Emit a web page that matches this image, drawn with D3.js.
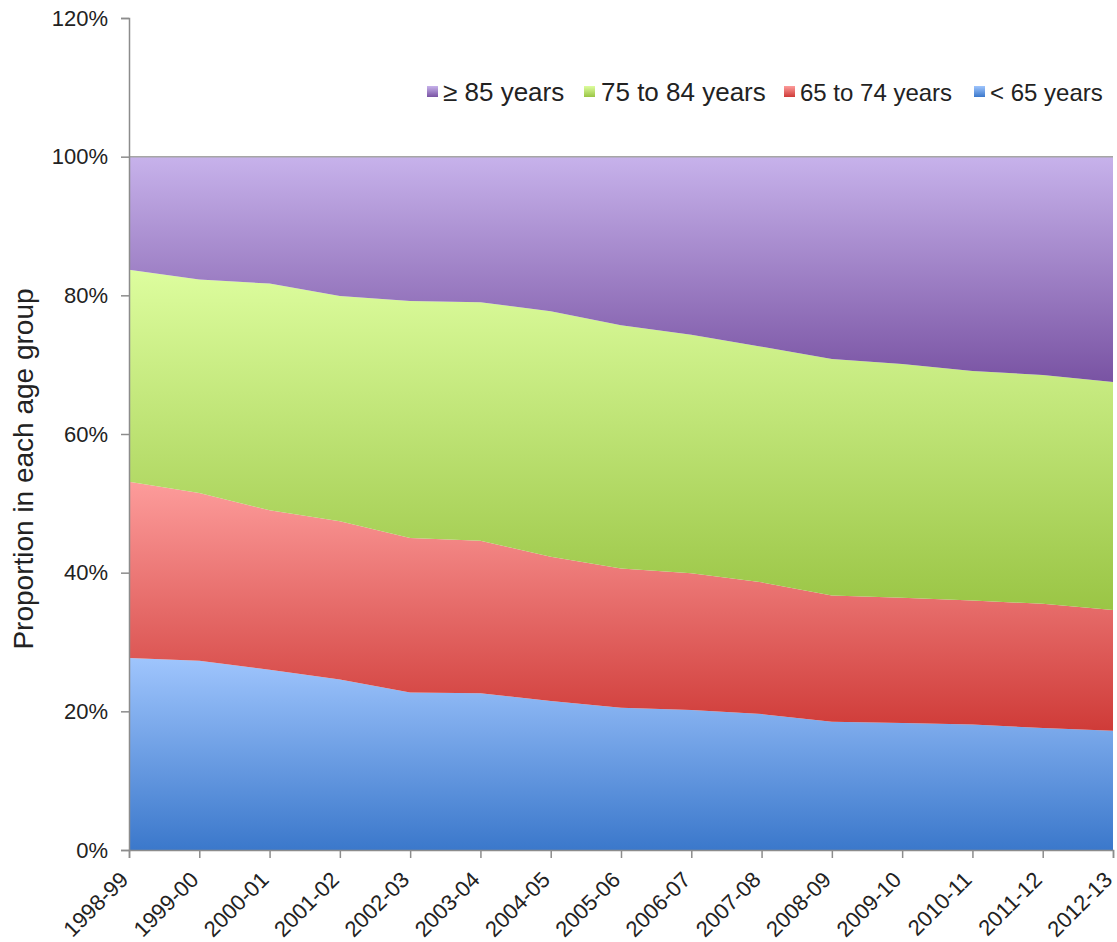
<!DOCTYPE html>
<html>
<head>
<meta charset="utf-8">
<script src="https://cdn.jsdelivr.net/npm/d3@7"></script>
<style>
  html, body { margin: 0; padding: 0; background: #fff; }
  svg { display: block; font-family: "Liberation Sans", Arial, sans-serif; }
</style>
</head>
<body>
<svg id="chart" width="1117" height="942"></svg>
<script>
// Financial years shown on the x axis
const years = ["1998-99","1999-00","2000-01","2001-02","2002-03","2003-04","2004-05",
  "2005-06","2006-07","2007-08","2008-09","2009-10","2010-11","2011-12","2012-13"];

// Share of each age group (%) per year
const under65   = [27.7, 27.3, 26.0, 24.6, 22.7, 22.6, 21.5, 20.5, 20.2, 19.6, 18.5, 18.3, 18.1, 17.6, 17.2];
const age65to74 = [25.4, 24.2, 23.0, 22.8, 22.3, 22.0, 20.8, 20.1, 19.7, 19.0, 18.2, 18.1, 17.9, 17.9, 17.4];
const age75to84 = [30.6, 30.8, 32.7, 32.5, 34.2, 34.4, 35.4, 35.1, 34.4, 34.0, 34.1, 33.7, 33.1, 33.0, 32.9];
const age85plus = [16.3, 17.7, 18.3, 20.1, 20.8, 21.0, 22.3, 24.3, 25.7, 27.4, 29.2, 29.9, 30.9, 31.5, 32.5];

// Y axis tick values (%)
const yTicks = [0, 20, 40, 60, 80, 100, 120];

// Series in stacking order (bottom to top)
const seriesKeys = ["< 65 years", "65 to 74 years", "75 to 84 years", "≥ 85 years"];
const seriesValues = [under65, age65to74, age75to84, age85plus];

const rows = years.map((yr, i) => {
  const r = { year: yr };
  seriesKeys.forEach((k, j) => r[k] = seriesValues[j][i]);
  return r;
});

const svg = d3.select("#chart");
const plotLeft = 129, plotRight = 1113, plotTop = 18, plotBottom = 850;

const x = d3.scalePoint().domain(years).range([plotLeft, plotRight]);
const y = d3.scaleLinear().domain([0, 120]).range([plotBottom, plotTop]);

// Vertical gradient fills for each band
const grads = [
  { id: "gBlue",   from: "#9fc5fd", to: "#3b78cb" },
  { id: "gRed",    from: "#fd9c9b", to: "#cf3b38" },
  { id: "gGreen",  from: "#ddfd9e", to: "#9ac545" },
  { id: "gPurple", from: "#c7b2eb", to: "#7953a3" }
];
const defs = svg.append("defs");
grads.forEach(g => {
  const lgr = defs.append("linearGradient").attr("id", g.id)
    .attr("x1", 0).attr("y1", 0).attr("x2", 0).attr("y2", 1);
  lgr.append("stop").attr("offset", "0%").attr("stop-color", g.from);
  lgr.append("stop").attr("offset", "100%").attr("stop-color", g.to);
});

const stacked = d3.stack().keys(seriesKeys)(rows);

const area = d3.area()
  .x(d => x(d.data.year))
  .y0(d => y(d[0]))
  .y1(d => y(d[1]));

svg.append("g").selectAll("path")
  .data(stacked)
  .join("path")
  .attr("d", area)
  .attr("fill", (d, i) => `url(#${grads[i].id})`);

// Grey outline along the top of the stack
const topLine = d3.line()
  .x(d => x(d.data.year))
  .y(d => y(d[1]));
svg.append("path")
  .datum(stacked[stacked.length - 1])
  .attr("d", topLine)
  .attr("fill", "none")
  .attr("stroke", "#a6a6a6")
  .attr("stroke-width", 1.5);

// Y axis
const yAxis = d3.axisLeft(y).tickValues(yTicks).tickFormat(d => d + "%")
  .tickSize(8).tickPadding(13);
const gy = svg.append("g").attr("transform", `translate(${plotLeft},0)`).call(yAxis);
gy.select(".domain").attr("stroke", "#8c8c8c").attr("stroke-width", 1.5);
gy.selectAll(".tick line").attr("stroke", "#8c8c8c").attr("stroke-width", 1.5);
gy.selectAll(".tick text").attr("font-size", 22).attr("fill", "#222")
  .attr("font-family", "Liberation Sans, Arial, sans-serif");

// X axis
const xAxis = d3.axisBottom(x).tickSize(8).tickPadding(6);
const gx = svg.append("g").attr("transform", `translate(0,${plotBottom})`).call(xAxis);
gx.select(".domain").attr("stroke", "#8c8c8c").attr("stroke-width", 1.5);
gx.selectAll(".tick line").attr("stroke", "#8c8c8c").attr("stroke-width", 1.5);
gx.selectAll(".tick text")
  .attr("font-size", 22).attr("fill", "#222")
  .attr("font-family", "Liberation Sans, Arial, sans-serif")
  .attr("text-anchor", "end")
  .attr("dy", null)
  .attr("transform", "translate(-4,27) rotate(-45)")
  .attr("x", 0).attr("y", 0)
  .attr("dominant-baseline", "middle");

// Y axis title
svg.append("text")
  .attr("transform", "translate(33,469) rotate(-90)")
  .attr("text-anchor", "middle")
  .attr("font-size", 28)
  .attr("fill", "#222")
  .text("Proportion in each age group");

// Legend
const legendItems = [
  { label: "≥ 85 years",     grad: "gPurple", sx: 427, tx: 443, size: 26 },
  { label: "75 to 84 years", grad: "gGreen",  sx: 584, tx: 601, size: 26 },
  { label: "65 to 74 years", grad: "gRed",    sx: 784, tx: 800, size: 24 },
  { label: "< 65 years",     grad: "gBlue",   sx: 974, tx: 990, size: 24 }
];
const legend = svg.append("g");
legendItems.forEach(it => {
  legend.append("rect").attr("x", it.sx).attr("y", 86).attr("width", 11).attr("height", 11)
    .attr("fill", `url(#${it.grad})`);
  legend.append("text").attr("x", it.tx).attr("y", 101)
    .attr("font-size", it.size).attr("fill", "#222").text(it.label);
});
</script>
</body>
</html>
